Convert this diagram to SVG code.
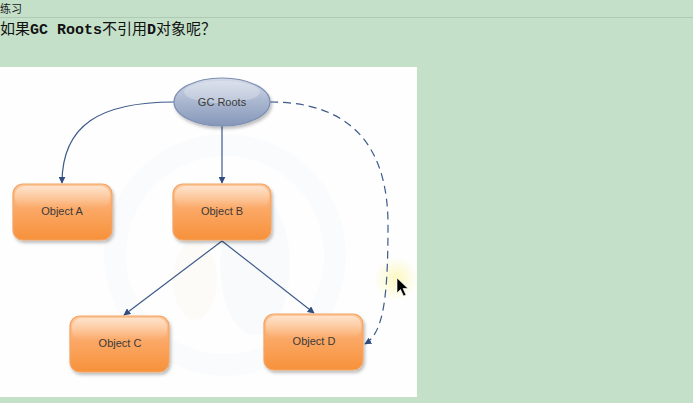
<svg xmlns="http://www.w3.org/2000/svg" width="693" height="403" viewBox="0 0 693 403">
<defs>
<style>
.obj rect.box{fill:url(#og);stroke:#f2a566;stroke-width:1.2}
.obj rect.shine{fill:url(#sh)}
.lbl{font-family:"Liberation Sans",Arial,sans-serif;font-size:11px;fill:#3a3a3a;text-anchor:middle}
.edge{fill:none;stroke:#3d5a8a;stroke-width:1.2}
.dash{stroke-dasharray:8 5}
</style>
<linearGradient id="og" x1="0" y1="0" x2="0" y2="1">
<stop offset="0" stop-color="#fdc89a"/>
<stop offset="0.45" stop-color="#fba866"/>
<stop offset="1" stop-color="#f7913a"/>
</linearGradient>
<linearGradient id="sh" x1="0" y1="0" x2="0" y2="1">
<stop offset="0" stop-color="#fff" stop-opacity="0.5"/>
<stop offset="1" stop-color="#fff" stop-opacity="0"/>
</linearGradient>
<linearGradient id="eg" x1="0" y1="0" x2="0" y2="1">
<stop offset="0" stop-color="#d3dbe8"/>
<stop offset="0.5" stop-color="#a9b6cf"/>
<stop offset="1" stop-color="#8596b8"/>
</linearGradient>
<radialGradient id="glow">
<stop offset="0" stop-color="#fbf7b8" stop-opacity="0.9"/>
<stop offset="1" stop-color="#fbf7b8" stop-opacity="0"/>
</radialGradient>
<filter id="shadow" x="-20%" y="-20%" width="150%" height="160%">
<feDropShadow dx="1.5" dy="2.5" stdDeviation="1.8" flood-color="#000" flood-opacity="0.25"/>
</filter>
<marker id="ah" viewBox="0 0 10 10" refX="9" refY="5" markerWidth="7" markerHeight="7" orient="auto" markerUnits="userSpaceOnUse">
<path d="M0,0 L10,5 L0,10 z" fill="#2f4d7e"/>
</marker>
</defs>
<rect width="693" height="403" fill="#c4e0c9"/>
<line x1="0" y1="17.5" x2="693" y2="17.5" stroke="#afcab4" stroke-width="1.2"/>
<text x="0" y="13" font-family="'Noto Sans CJK SC',sans-serif" font-size="11" fill="#222">练习</text>
<text x="0" y="34" font-size="15" fill="#111" font-family="'Noto Sans CJK SC',sans-serif">如果<tspan font-family="'Liberation Mono',monospace" font-weight="bold">GC Roots</tspan>不引用<tspan font-family="'Liberation Mono',monospace" font-weight="bold">D</tspan>对象呢？</text>
<rect x="0" y="67" width="417" height="330" fill="#fefefe"/>
<g opacity="0.15">
<circle cx="225" cy="255" r="110" fill="none" stroke="#e6ecf4" stroke-width="22"/>
<ellipse cx="195" cy="280" rx="22" ry="40" fill="#f6ecd8"/>
<ellipse cx="255" cy="265" rx="35" ry="70" fill="#dde6f2"/>
</g>
<circle cx="396" cy="279" r="22" fill="url(#glow)"/>
<g id="connectors">
<path class="edge" d="M174,102 C100,102 62,125 62,183" marker-end="url(#ah)"/>
<path class="edge" d="M222,125 L222,183" marker-end="url(#ah)"/>
<path class="edge" d="M222,241 L124,315" marker-end="url(#ah)"/>
<path class="edge" d="M222,241 L314,313" marker-end="url(#ah)"/>
<path class="edge dash" d="M270,102 C345,102 388,140 388,225 C388,300 383,333 365,344" marker-end="url(#ah)"/>
</g>
<g id="gcroots">
<ellipse cx="222" cy="102" rx="48" ry="24" fill="url(#eg)" stroke="#7d8fb3" stroke-width="1.2" filter="url(#shadow)"/>
<ellipse cx="222" cy="92" rx="38" ry="11" fill="#fff" opacity="0.25"/>
<text class="lbl" x="222" y="106">GC Roots</text>
</g>
<g id="objA" class="obj">
<rect class="box" x="13" y="184" width="99" height="56" rx="10" filter="url(#shadow)"/>
<rect class="shine" x="15" y="186" width="95" height="22" rx="9"/>
<text class="lbl" x="62" y="215">Object A</text>
</g>
<g id="objB" class="obj">
<rect class="box" x="173" y="184" width="98" height="56" rx="10" filter="url(#shadow)"/>
<rect class="shine" x="175" y="186" width="94" height="22" rx="9"/>
<text class="lbl" x="222" y="215">Object B</text>
</g>
<g id="objC" class="obj">
<rect class="box" x="70" y="316" width="99" height="56" rx="10" filter="url(#shadow)"/>
<rect class="shine" x="72" y="318" width="95" height="22" rx="9"/>
<text class="lbl" x="120" y="347">Object C</text>
</g>
<g id="objD" class="obj">
<rect class="box" x="264" y="314" width="99" height="56" rx="10" filter="url(#shadow)"/>
<rect class="shine" x="266" y="316" width="95" height="22" rx="9"/>
<text class="lbl" x="314" y="345">Object D</text>
</g>
<path d="M397,278 L397,293 L400.5,289.5 L403.5,296 L406,295 L403,288.5 L408,288.5 z" fill="#000" stroke="#fff" stroke-width="0.6"/>
</svg>
